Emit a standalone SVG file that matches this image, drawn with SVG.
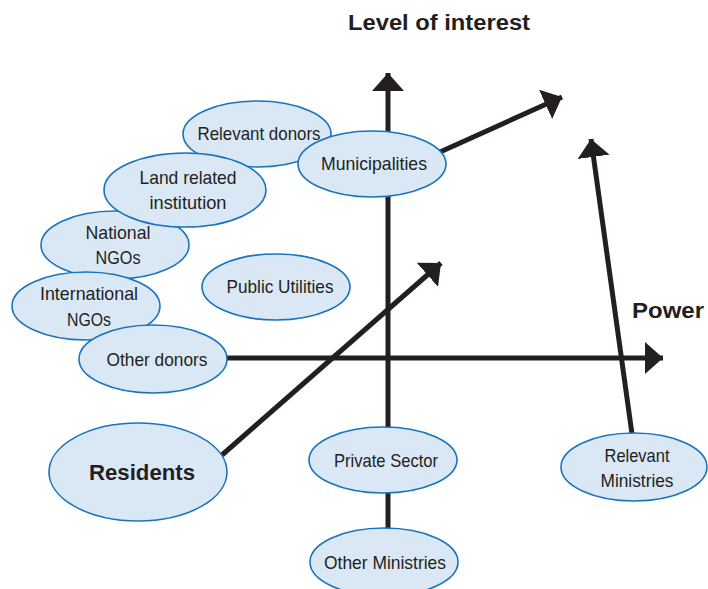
<svg xmlns="http://www.w3.org/2000/svg" width="708" height="589" viewBox="0 0 708 589">
<style>
.n ellipse{fill:#dae8f6;stroke:#1a73bd;stroke-width:1.6}
.n text,.t{font-family:"Liberation Sans",Arial,sans-serif;font-size:18.5px;fill:#231f20;text-anchor:middle}
.n text.b,.t.b{font-weight:bold;font-size:22px}
.c line{stroke:#231f20;stroke-width:5;fill:none}
</style>
<defs>
<marker id="ah2" markerUnits="userSpaceOnUse" markerWidth="20" markerHeight="32" refX="18" refY="16" orient="auto" viewBox="0 0 20 32">
<path d="M0,0 L18,16 L0,32 Z" fill="#231f20"/>
</marker>
</defs>
<text class="t b" x="439" y="30" textLength="182" lengthAdjust="spacingAndGlyphs">Level of interest</text>
<text class="t b" x="668" y="318" textLength="72" lengthAdjust="spacingAndGlyphs">Power</text>
<g id="connectors" class="c">
<line x1="388" y1="530" x2="388" y2="73" marker-end="url(#ah2)"/>
<line x1="226" y1="358" x2="663" y2="358" marker-end="url(#ah2)"/>
<line x1="222" y1="455" x2="441" y2="263" marker-end="url(#ah2)"/>
<line x1="440" y1="152" x2="562" y2="97" marker-end="url(#ah2)"/>
<line x1="632" y1="434" x2="591" y2="139" marker-end="url(#ah2)"/>
</g>
<g id="relevant-donors" class="n"><ellipse cx="257" cy="134" rx="74" ry="33"/><text x="259" y="140" textLength="123" lengthAdjust="spacingAndGlyphs">Relevant donors</text></g>
<g id="municipalities" class="n"><ellipse cx="372" cy="164" rx="74" ry="33"/><text x="374" y="170" textLength="106" lengthAdjust="spacingAndGlyphs">Municipalities</text></g>
<g id="national-ngos" class="n"><ellipse cx="115" cy="245" rx="74" ry="34"/><text x="118" y="239" textLength="65" lengthAdjust="spacingAndGlyphs">National</text><text x="118" y="264" textLength="45" lengthAdjust="spacingAndGlyphs">NGOs</text></g>
<g id="land-related-institution" class="n"><ellipse cx="185" cy="190" rx="81" ry="37"/><text x="188" y="184" textLength="97" lengthAdjust="spacingAndGlyphs">Land related</text><text x="188" y="209" textLength="77" lengthAdjust="spacingAndGlyphs">institution</text></g>
<g id="international-ngos" class="n"><ellipse cx="86" cy="306" rx="74" ry="34"/><text x="89" y="300" textLength="98" lengthAdjust="spacingAndGlyphs">International</text><text x="89" y="326" textLength="44" lengthAdjust="spacingAndGlyphs">NGOs</text></g>
<g id="other-donors" class="n"><ellipse cx="153" cy="359" rx="74" ry="34"/><text x="157" y="366" textLength="101" lengthAdjust="spacingAndGlyphs">Other donors</text></g>
<g id="public-utilities" class="n"><ellipse cx="276" cy="287" rx="74" ry="33"/><text x="280" y="293" textLength="107" lengthAdjust="spacingAndGlyphs">Public Utilities</text></g>
<g id="residents" class="n"><ellipse cx="138" cy="472" rx="89" ry="49"/><text class="b" x="142" y="480" textLength="106" lengthAdjust="spacingAndGlyphs">Residents</text></g>
<g id="private-sector" class="n"><ellipse cx="383" cy="460" rx="74" ry="33"/><text x="386" y="467" textLength="104" lengthAdjust="spacingAndGlyphs">Private Sector</text></g>
<g id="other-ministries" class="n"><ellipse cx="384" cy="562" rx="74" ry="34"/><text x="385" y="569" textLength="122" lengthAdjust="spacingAndGlyphs">Other Ministries</text></g>
<g id="relevant-ministries" class="n"><ellipse cx="634" cy="467" rx="73" ry="34"/><text x="637" y="462" textLength="65" lengthAdjust="spacingAndGlyphs">Relevant</text><text x="637" y="487" textLength="73" lengthAdjust="spacingAndGlyphs">Ministries</text></g>
</svg>
